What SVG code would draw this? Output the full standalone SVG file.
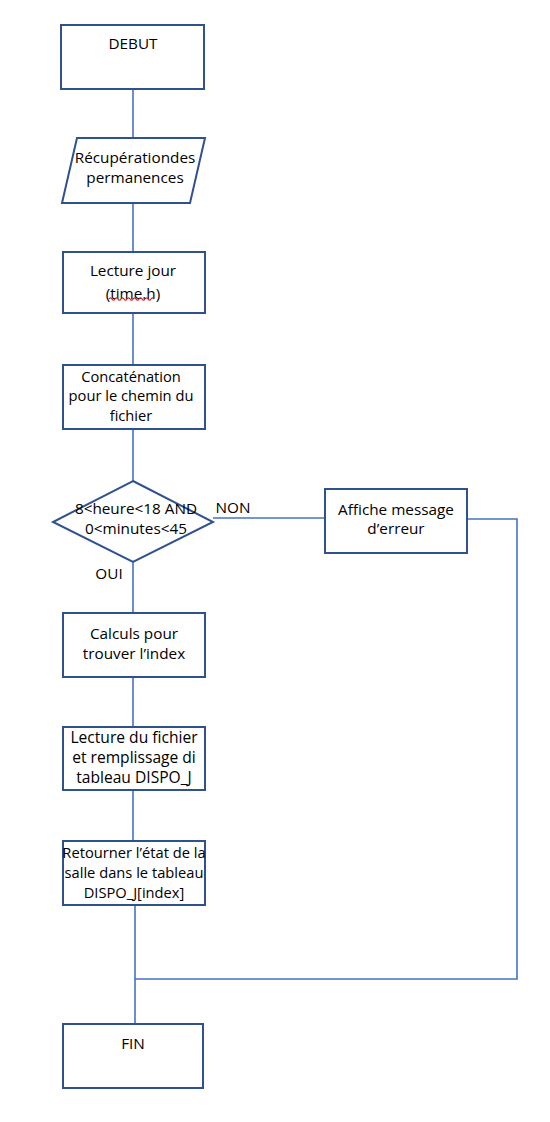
<svg xmlns="http://www.w3.org/2000/svg" width="550" height="1122" viewBox="0 0 550 1122">
<style>
.box{fill:#fff;stroke:#2F528F;stroke-width:2}
.ln{fill:none;stroke:#4472C4;stroke-width:1.6}
text{font-family:"Open Sans","Liberation Sans",sans-serif;fill:#000;text-anchor:middle;dominant-baseline:central}
.t15{font-size:15.3px}
.t14{font-size:14.7px}
.t17{font-size:15.6px}
</style>
<rect width="550" height="1122" fill="#fff"/>
<g id="connectors">
<line class="ln" x1="133" y1="89" x2="133" y2="138"/>
<line class="ln" x1="133" y1="203" x2="133" y2="252"/>
<line class="ln" x1="133" y1="313" x2="133" y2="365"/>
<line class="ln" x1="133" y1="429" x2="133" y2="481"/>
<line class="ln" x1="133" y1="562" x2="133" y2="613"/>
<line class="ln" x1="133" y1="677" x2="133" y2="727"/>
<line class="ln" x1="133" y1="790" x2="133" y2="841"/>
<line class="ln" x1="135" y1="905" x2="135" y2="1024"/>
<line class="ln" x1="213" y1="518" x2="325" y2="518"/>
<polyline class="ln" points="467,519 517,519 517,979 135,979"/>
<text class="t15" x="233" y="507">NON</text>
<text class="t15" x="109" y="573">OUI</text>
</g>
<g id="debut">
<rect class="box" x="61" y="25" width="143" height="64"/>
<text class="t15" x="133" y="43">DEBUT</text>
</g>
<g id="recuperation">
<polygon class="box" points="77,138 205,138 190,203 62,203"/>
<text class="t15" x="135" y="157">Récupérationdes</text>
<text class="t15" x="135" y="177">permanences</text>
</g>
<g id="lecture-jour">
<rect class="box" x="63" y="252" width="142" height="61"/>
<text class="t15" x="133" y="270">Lecture jour</text>
<text class="t15" x="133" y="293">(time.h)</text>
<path d="M109,299 q1.5,-2.4 3,0 t3,0 t3,0 t3,0 t3,0 t3,0 t3,0 t3,0 t3,0 t3,0 t3,0 t3,0 t3,0 t3,0 t3,0" fill="none" stroke="#E02020" stroke-width="1.3"/>
</g>
<g id="concatenation">
<rect class="box" x="63" y="365" width="142" height="64"/>
<text class="t14" x="131" y="376">Concaténation</text>
<text class="t14" x="131" y="395">pour le chemin du</text>
<text class="t14" x="131" y="415">fichier</text>
</g>
<g id="decision">
<polygon class="box" points="133,481 213,522 133,562 53,522"/>
<text class="t15" x="136" y="508">8&lt;heure&lt;18 AND</text>
<text class="t15" x="136" y="528">0&lt;minutes&lt;45</text>
</g>
<g id="erreur">
<rect class="box" x="325" y="489" width="142" height="64"/>
<text class="t15" x="396" y="509">Affiche message</text>
<text class="t15" x="396" y="528">d’erreur</text>
</g>
<g id="calculs">
<rect class="box" x="63" y="613" width="142" height="64"/>
<text class="t15" x="134" y="633">Calculs pour</text>
<text class="t15" x="134" y="653">trouver l’index</text>
</g>
<g id="lecture-fichier">
<rect class="box" x="63" y="727" width="142" height="63"/>
<text class="t17" x="134" y="737">Lecture du fichier</text>
<text class="t17" x="134" y="757">et remplissage di</text>
<text class="t17" x="134" y="777">tableau DISPO_J</text>
</g>
<g id="retourner">
<rect class="box" x="63" y="841" width="142" height="64"/>
<text class="t14" x="134" y="852">Retourner l’état de la</text>
<text class="t14" x="134" y="872">salle dans le tableau</text>
<text class="t14" x="134" y="892">DISPO_J[index]</text>
</g>
<g id="fin">
<rect class="box" x="63" y="1024" width="140" height="64"/>
<text class="t15" x="133" y="1043">FIN</text>
</g>
</svg>
